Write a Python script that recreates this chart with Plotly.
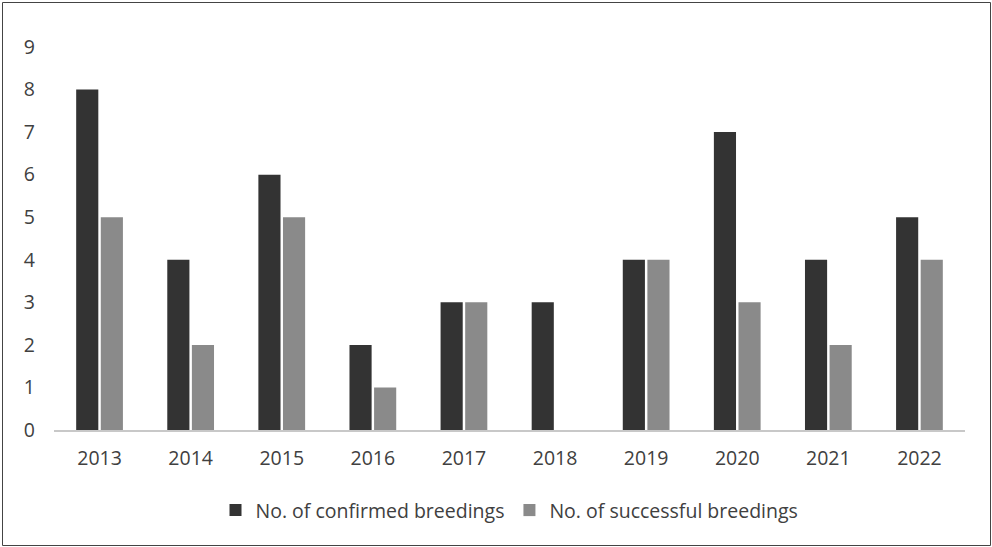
import plotly.graph_objects as go

years = ["2013", "2014", "2015", "2016", "2017", "2018", "2019", "2020", "2021", "2022"]
confirmed = [8, 4, 6, 2, 3, 3, 4, 7, 4, 5]
successful = [5, 2, 5, 1, 3, 0, 4, 3, 2, 4]
y_ticks = [0, 1, 2, 3, 4, 5, 6, 7, 8, 9]

FONT = "Open Sans"
TXT = "#404040"

fig = go.Figure()
fig.add_trace(go.Bar(x=years, y=confirmed, name="No. of confirmed breedings",
                     marker=dict(color="#333333", line=dict(width=0))))
fig.add_trace(go.Bar(x=years, y=successful, name="No. of successful breedings",
                     marker=dict(color="#8a8a8a", line=dict(width=0))))

W, H = 992, 547
ml, mr, mt, mb = 54, 27, 47, 117
pw, ph = W - ml - mr, H - mt - mb

fig.update_layout(
    width=W, height=H,
    margin=dict(l=ml, r=mr, t=mt, b=mb),
    paper_bgcolor="white", plot_bgcolor="white",
    barmode="group", bargap=0.46, bargroupgap=0.1,
    font=dict(family=FONT, color=TXT, size=19),
    showlegend=True,
    legend=dict(orientation="h", x=0.5, xanchor="center", y=-0.21, yanchor="middle",
                font=dict(size=19.5, color=TXT, family=FONT), itemwidth=30,
                traceorder="normal"),
    xaxis=dict(showgrid=False, showline=True, linecolor="#c8c8c8", linewidth=2,
               ticks="", tickfont=dict(size=19.5, color=TXT), ticklabelstandoff=10),
    yaxis=dict(range=[0, 9], tickvals=y_ticks, showgrid=False, showline=False,
               zeroline=False, ticks="", tickfont=dict(size=19.5, color=TXT),
               ticklabelstandoff=18),
    shapes=[dict(type="rect", xref="paper", yref="paper",
                 x0=(2.5 - ml) / pw, x1=(W - 1.5 - ml) / pw,
                 y0=-(H - 1.5 - mt - ph) / ph,
                 y1=1 + (mt - 2.5) / ph,
                 line=dict(color="#444444", width=1), layer="below")],
)

fig.write_html("out.html")
